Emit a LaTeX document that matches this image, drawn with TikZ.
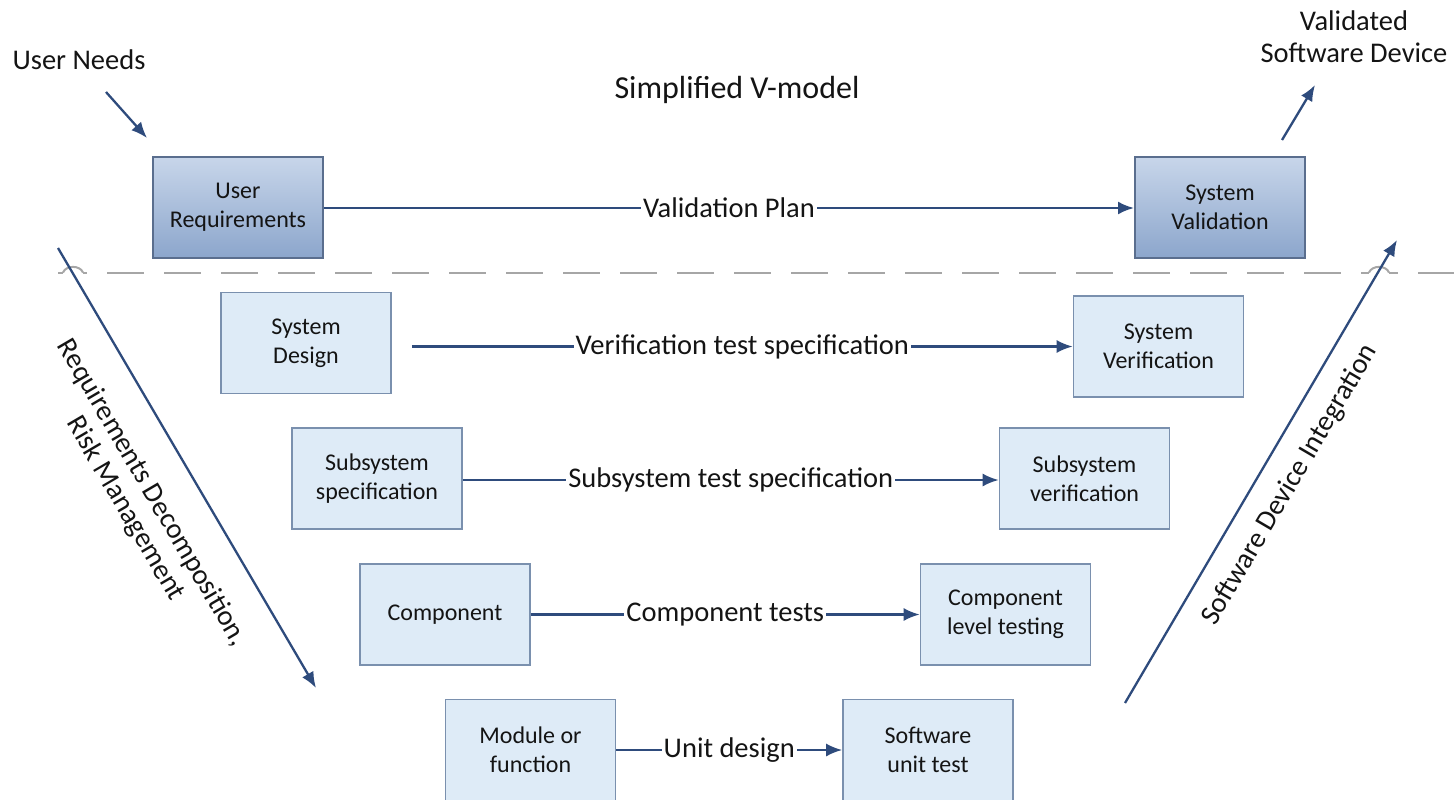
\documentclass[tikz,border=0pt]{standalone}
\usepackage{fontspec}
\setmainfont{Carlito}
\usetikzlibrary{arrows.meta,calc}
\definecolor{flow}{HTML}{2E4B7C}
\definecolor{ink}{HTML}{141414}
\definecolor{darktop}{HTML}{C8D6EA}
\definecolor{darkbot}{HTML}{8CA6CC}
\definecolor{darkedge}{HTML}{5A6E8E}
\definecolor{lightfill}{HTML}{DEEBF7}
\definecolor{lightedge}{HTML}{7A90AE}
\definecolor{divider}{HTML}{A6A6A6}
\tikzset{
  stage/.style={draw=lightedge, line width=1.6pt, fill=lightfill,
    minimum width=170pt, minimum height=101pt, align=center, text=ink,
    inner sep=2pt, font=\fontsize{24}{29}\selectfont},
  topstage/.style={stage, draw=darkedge, line width=2pt,
    top color=darktop, bottom color=darkbot},
  flowarrow/.style={draw=flow, line width=2.3pt,
    -{Latex[length=16pt,width=13pt]}},
  linklabel/.style={fill=white, text=ink, inner sep=2pt,
    font=\fontsize{28.5}{32}\selectfont},
  sidelabel/.style={text=ink, align=center,
    font=\fontsize{28.5}{32}\selectfont},
  hop/.style={draw=divider, line width=2pt}
}
\begin{document}
\begin{tikzpicture}[x=1pt,y=-1pt]
\useasboundingbox (0,0) rectangle (1454,800);

% title and outer labels
\node[text=ink, font=\fontsize{32}{36}\selectfont] (title) at (737,90) {Simplified V-model};
\node[sidelabel] (needs) at (79,60) {User Needs};
\node[sidelabel] (validated) at (1354,37) {Validated\\Software Device};

% separation between validation level and design levels
\draw[divider, line width=2pt, dash pattern=on 37pt off 20pt, dash phase=8pt] (58,272.5) -- (1454,272.5);
\fill[white] (63,268) rectangle (83,277);
\draw[hop] (63,272.5) .. controls (66,265) and (80,265) .. (83,272.5);
\fill[white] (1369,268) rectangle (1389,277);
\draw[hop] (1369,272.5) .. controls (1372,265) and (1386,265) .. (1389,272.5);

% left branch of the V
\node[topstage] (ureq) at (238,207) {User\\Requirements};
\node[stage] (sdes) at (306,343) {System\\Design};
\node[stage] (subspec) at (377,478.5) {Subsystem\\specification};
\node[stage] (comp) at (445,614.5) {Component};
\node[stage] (mod) at (530.5,750) {Module or\\function};

% right branch of the V
\node[topstage] (sval) at (1220,207) {System\\Validation};
\node[stage] (sver) at (1158.5,346.5) {System\\Verification};
\node[stage] (subver) at (1084.5,478.5) {Subsystem\\verification};
\node[stage] (complev) at (1005.5,614.5) {Component\\level testing};
\node[stage] (swut) at (928,750) {Software\\unit test};

% horizontal links between matching levels
\draw[flowarrow] (ureq.east |- 0,208) -- node[linklabel] (lvp) {Validation Plan} (sval.west |- 0,208);
\draw[flowarrow] ($(sdes.east |- sver.west)+(20,0)$) -- node[linklabel] (lvts) {Verification test specification} (sver.west);
\draw[flowarrow] (subspec.east |- 0,480) -- node[linklabel] (lsts) {Subsystem test specification} (subver.west |- 0,480);
\draw[flowarrow] (comp.east) -- node[linklabel] (lct) {Component tests} (complev.west);
\draw[flowarrow] (mod.east) -- node[linklabel] (lud) {Unit design} (swut.west);

% incoming and outgoing arrows
\coordinate (needsA) at (106,92);
\coordinate (needsB) at (147,138);
\draw[flowarrow] (needsA) -- (needsB);
\coordinate (outA) at (1282,140);
\coordinate (outB) at (1315,85);
\draw[flowarrow] (outA) -- (outB);

% diagonal arrows along the V
\coordinate (downA) at (58,248);
\coordinate (downB) at (316,688);
\draw[flowarrow] (downA) -- (downB);
\coordinate (upA) at (1125,703);
\coordinate (upB) at (1397,240);
\draw[flowarrow] (upA) -- (upB);

\node[sidelabel, rotate=-59.6, font=\fontsize{28.5}{31}\selectfont] (decomp) at (138.5,501)
  {Requirements Decomposition,\\Risk Management};
\node[sidelabel, rotate=59.6] (integ) at (1290,485) {Software Device Integration};
\end{tikzpicture}
\end{document}
